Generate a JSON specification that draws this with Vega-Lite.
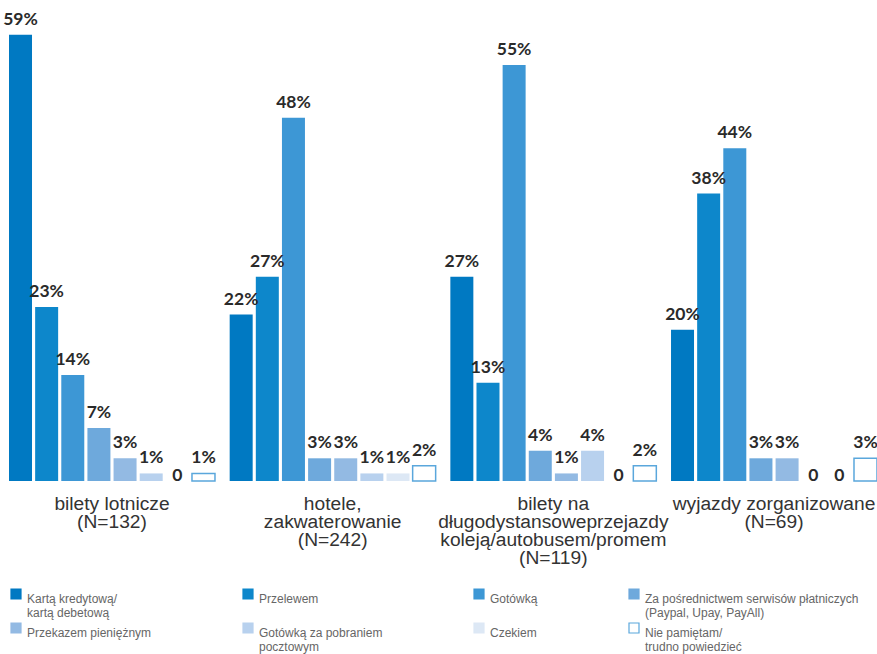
{
  "$schema": "https://vega.github.io/schema/vega-lite/v6.json",
  "width": 886,
  "height": 481,
  "autosize": "none",
  "padding": {"left": 0, "top": 0, "right": 0, "bottom": 173},
  "background": "white",
  "config": {"view": {"stroke": null}},
  "data": {
    "values": [
      {"g": "bilety lotnicze|(N=132)", "c": "Kartą kredytową/|kartą debetową", "v": 59, "label": "59%"},
      {"g": "bilety lotnicze|(N=132)", "c": "Przelewem", "v": 23, "label": "23%"},
      {"g": "bilety lotnicze|(N=132)", "c": "Gotówką", "v": 14, "label": "14%"},
      {"g": "bilety lotnicze|(N=132)", "c": "Za pośrednictwem serwisów płatniczych|(Paypal, Upay, PayAll)", "v": 7, "label": "7%"},
      {"g": "bilety lotnicze|(N=132)", "c": "Przekazem pieniężnym", "v": 3, "label": "3%"},
      {"g": "bilety lotnicze|(N=132)", "c": "Gotówką za pobraniem|pocztowym", "v": 1, "label": "1%"},
      {"g": "bilety lotnicze|(N=132)", "c": "Czekiem", "v": 0, "label": "0"},
      {"g": "bilety lotnicze|(N=132)", "c": "Nie pamiętam/|trudno powiedzieć", "v": 1, "label": "1%"},
      {"g": "hotele,|zakwaterowanie|(N=242)", "c": "Kartą kredytową/|kartą debetową", "v": 22, "label": "22%"},
      {"g": "hotele,|zakwaterowanie|(N=242)", "c": "Przelewem", "v": 27, "label": "27%"},
      {"g": "hotele,|zakwaterowanie|(N=242)", "c": "Gotówką", "v": 48, "label": "48%"},
      {"g": "hotele,|zakwaterowanie|(N=242)", "c": "Za pośrednictwem serwisów płatniczych|(Paypal, Upay, PayAll)", "v": 3, "label": "3%"},
      {"g": "hotele,|zakwaterowanie|(N=242)", "c": "Przekazem pieniężnym", "v": 3, "label": "3%"},
      {"g": "hotele,|zakwaterowanie|(N=242)", "c": "Gotówką za pobraniem|pocztowym", "v": 1, "label": "1%"},
      {"g": "hotele,|zakwaterowanie|(N=242)", "c": "Czekiem", "v": 1, "label": "1%"},
      {"g": "hotele,|zakwaterowanie|(N=242)", "c": "Nie pamiętam/|trudno powiedzieć", "v": 2, "label": "2%"},
      {"g": "bilety na|długodystansoweprzejazdy|koleją/autobusem/promem|(N=119)", "c": "Kartą kredytową/|kartą debetową", "v": 27, "label": "27%"},
      {"g": "bilety na|długodystansoweprzejazdy|koleją/autobusem/promem|(N=119)", "c": "Przelewem", "v": 13, "label": "13%"},
      {"g": "bilety na|długodystansoweprzejazdy|koleją/autobusem/promem|(N=119)", "c": "Gotówką", "v": 55, "label": "55%"},
      {"g": "bilety na|długodystansoweprzejazdy|koleją/autobusem/promem|(N=119)", "c": "Za pośrednictwem serwisów płatniczych|(Paypal, Upay, PayAll)", "v": 4, "label": "4%"},
      {"g": "bilety na|długodystansoweprzejazdy|koleją/autobusem/promem|(N=119)", "c": "Przekazem pieniężnym", "v": 1, "label": "1%"},
      {"g": "bilety na|długodystansoweprzejazdy|koleją/autobusem/promem|(N=119)", "c": "Gotówką za pobraniem|pocztowym", "v": 4, "label": "4%"},
      {"g": "bilety na|długodystansoweprzejazdy|koleją/autobusem/promem|(N=119)", "c": "Czekiem", "v": 0, "label": "0"},
      {"g": "bilety na|długodystansoweprzejazdy|koleją/autobusem/promem|(N=119)", "c": "Nie pamiętam/|trudno powiedzieć", "v": 2, "label": "2%"},
      {"g": "wyjazdy zorganizowane|(N=69)", "c": "Kartą kredytową/|kartą debetową", "v": 20, "label": "20%"},
      {"g": "wyjazdy zorganizowane|(N=69)", "c": "Przelewem", "v": 38, "label": "38%"},
      {"g": "wyjazdy zorganizowane|(N=69)", "c": "Gotówką", "v": 44, "label": "44%"},
      {"g": "wyjazdy zorganizowane|(N=69)", "c": "Za pośrednictwem serwisów płatniczych|(Paypal, Upay, PayAll)", "v": 3, "label": "3%"},
      {"g": "wyjazdy zorganizowane|(N=69)", "c": "Przekazem pieniężnym", "v": 3, "label": "3%"},
      {"g": "wyjazdy zorganizowane|(N=69)", "c": "Gotówką za pobraniem|pocztowym", "v": 0, "label": "0"},
      {"g": "wyjazdy zorganizowane|(N=69)", "c": "Czekiem", "v": 0, "label": "0"},
      {"g": "wyjazdy zorganizowane|(N=69)", "c": "Nie pamiętam/|trudno powiedzieć", "v": 3, "label": "3%"}
    ]
  },
  "encoding": {
    "x": {
      "field": "g", "type": "nominal", "sort": null, "title": null,
      "scale": {"paddingInner": 0.0666, "paddingOuter": 0.0408},
      "axis": {
        "orient": "bottom", "domain": false, "ticks": false, "labelAngle": 0,
        "labelExpr": "split(datum.label, '|')",
        "labelFont": "Liberation Sans", "labelFontSize": 19.2, "labelColor": "#333333",
        "labelLineHeight": 18.3, "labelPadding": 13, "labelLimit": 400, "labelBaseline": "top"
      }
    },
    "xOffset": {
      "field": "c", "type": "nominal",
      "scale": {
        "domain": ["Kartą kredytową/|kartą debetową", "Przelewem", "Gotówką", "Za pośrednictwem serwisów płatniczych|(Paypal, Upay, PayAll)", "Przekazem pieniężnym", "Gotówką za pobraniem|pocztowym", "Czekiem", "Nie pamiętam/|trudno powiedzieć"],
        "paddingInner": 0.12, "paddingOuter": 0
      }
    },
    "y": {
      "field": "v", "type": "quantitative", "axis": null,
      "scale": {"domain": [0, 63.58], "nice": false, "zero": true}
    }
  },
  "layer": [
    {
      "mark": {"type": "bar", "strokeWidth": 1.5},
      "encoding": {
        "fill": {
          "field": "c", "type": "nominal", "title": null,
          "scale": {
            "domain": ["Kartą kredytową/|kartą debetową", "Przelewem", "Gotówką", "Za pośrednictwem serwisów płatniczych|(Paypal, Upay, PayAll)", "Przekazem pieniężnym", "Gotówką za pobraniem|pocztowym", "Czekiem", "Nie pamiętam/|trudno powiedzieć"],
            "range": ["#0079c2", "#0d87cb", "#3d97d5", "#6ea9dc", "#93bae3", "#b8d1ee", "#dde8f5", "#ffffff"]
          },
          "legend": {
            "orient": "none", "legendX": 10, "legendY": 588,
            "direction": "horizontal", "columns": 4, "gridAlign": "each",
            "columnPadding": 88, "rowPadding": 1,
            "symbolType": "square", "symbolSize": 100, "symbolStrokeWidth": 1.2,
            "labelExpr": "indexof(datum.label, '|') < 0 ? [datum.label, ' '] : split(datum.label, '|')",
            "labelFont": "Liberation Sans", "labelFontSize": 12, "labelColor": "#666666",
            "labelLineHeight": 14,
            "labelLimit": 400, "labelOffset": 5, "labelBaseline": "top"
          }
        },
        "stroke": {
          "field": "c", "type": "nominal", "title": null,
          "scale": {
            "domain": ["Kartą kredytową/|kartą debetową", "Przelewem", "Gotówką", "Za pośrednictwem serwisów płatniczych|(Paypal, Upay, PayAll)", "Przekazem pieniężnym", "Gotówką za pobraniem|pocztowym", "Czekiem", "Nie pamiętam/|trudno powiedzieć"],
            "range": ["#0079c2", "#0d87cb", "#3d97d5", "#6ea9dc", "#93bae3", "#b8d1ee", "#dde8f5", "#5aa7dc"]
          }
        },
        "strokeWidth": {
          "condition": {"test": "datum.c === 'Nie pamiętam/|trudno powiedzieć'", "value": 1.5},
          "value": 0
        }
      }
    },
    {
      "transform": [{"filter": "datum.v > 0"}],
      "mark": {"type": "text", "baseline": "alphabetic", "dy": -10, "font": "Lato", "fontWeight": "bold", "fontSize": 17.5, "color": "#2a2a2a"},
      "encoding": {"text": {"field": "label"}}
    },
    {
      "transform": [{"filter": "datum.v == 0"}],
      "mark": {"type": "text", "baseline": "alphabetic", "dy": 0, "font": "Lato", "fontWeight": "bold", "fontSize": 17.5, "color": "#2a2a2a"},
      "encoding": {"text": {"field": "label"}}
    }
  ]
}
